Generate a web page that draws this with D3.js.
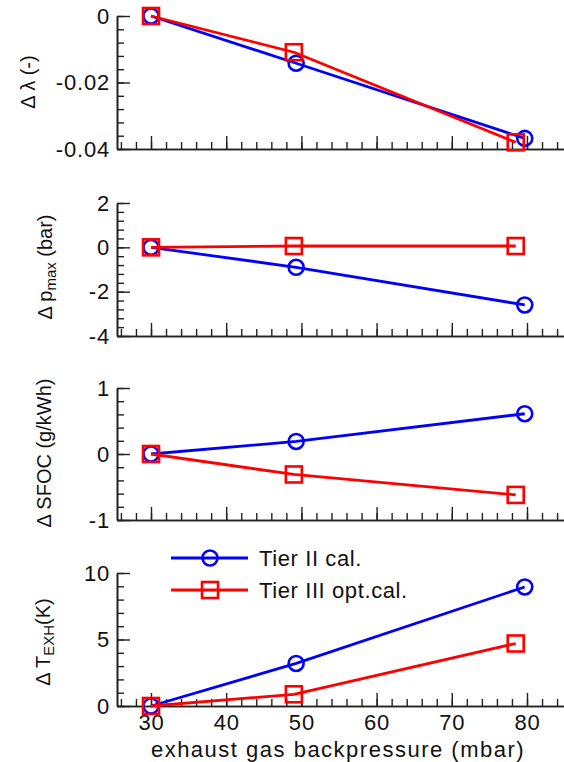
<!DOCTYPE html>
<html>
<head>
<meta charset="utf-8">
<script src="https://cdn.jsdelivr.net/npm/d3@7"></script>
<style>
  html, body { margin: 0; padding: 0; background: #fff; }
  svg { display: block; font-family: "Liberation Sans", Arial, Helvetica, sans-serif; }
</style>
</head>
<body>
<svg id="chart" width="564" height="762"></svg>
<script>
// Exhaust gas backpressure (mbar) of the three operating points
const xTier2 = [30, 49.3, 79.7];
const xTier3 = [30, 49.0, 78.5];

// Change in air-fuel ratio lambda (-)
const lambdaTier2 = [0, -0.0142, -0.0368];
const lambdaTier3 = [0, -0.0109, -0.038];

// Change in peak cylinder pressure (bar)
const pmaxTier2 = [0, -0.9, -2.6];
const pmaxTier3 = [0, 0.06, 0.06];

// Change in specific fuel oil consumption (g/kWh)
const sfocTier2 = [0, 0.19, 0.61];
const sfocTier3 = [0, -0.31, -0.62];

// Change in exhaust gas temperature (K)
const texhTier2 = [0, 3.2, 8.95];
const texhTier3 = [0, 0.88, 4.7];

// Axis ranges and ticks
const xMajorTicks = [30, 40, 50, 60, 70, 80];
const xMinorTicks = d3.range(26, 86, 2);
const lambdaDomain = [-0.04, 0];
const lambdaMajor = [0, -0.02, -0.04];
const lambdaMinor = d3.range(0, -0.0401, -0.004);
const pmaxDomain = [-4, 2];
const pmaxMajor = [2, 0, -2, -4];
const pmaxMinor = d3.range(2, -4.01, -0.4);
const sfocDomain = [-1, 1];
const sfocMajor = [1, 0, -1];
const sfocMinor = d3.range(1, -1.01, -0.2);
const texhDomain = [0, 10];
const texhMajor = [10, 5, 0];
const texhMinor = d3.range(0, 10.01, 1);

const seriesNames = ["Tier II cal.", "Tier III opt.cal."];
const seriesColors = ["#0000ff", "#ff0000"];

const svg = d3.select("#chart");

const axisLeftX = 117;
const axisRightX = 571;
// 30 mbar and 80 mbar anchor the horizontal scale
const xRef = d3.scaleLinear().domain([30, 80]).range([151, 527]);
const x = d3.scaleLinear()
  .domain([xRef.invert(axisLeftX), xRef.invert(axisRightX)])
  .range([axisLeftX, axisRightX]);

const panels = [
  { top: 16,  bottom: 149, domain: lambdaDomain, major: lambdaMajor, minor: lambdaMinor,
    fmt: d => d === 0 ? "0" : d3.format(".2f")(d).replace("−", "-"),
    y2: lambdaTier2, y3: lambdaTier3,
    label: [{t: "Δ λ (-)"}], labelX: 35, labelY: 82 },
  { top: 203, bottom: 336, domain: pmaxDomain, major: pmaxMajor, minor: pmaxMinor,
    fmt: d => String(d),
    y2: pmaxTier2, y3: pmaxTier3,
    label: [{t: "Δ p"}, {t: "max", sub: true}, {t: " (bar)"}], labelX: 52, labelY: 267 },
  { top: 388, bottom: 520, domain: sfocDomain, major: sfocMajor, minor: sfocMinor,
    fmt: d => String(d),
    y2: sfocTier2, y3: sfocTier3,
    label: [{t: "Δ SFOC (g/kWh)"}], labelX: 51, labelY: 453 },
  { top: 573, bottom: 706, domain: texhDomain, major: texhMajor, minor: texhMinor,
    fmt: d => String(d),
    y2: texhTier2, y3: texhTier3,
    label: [{t: "Δ T"}, {t: "EXH", sub: true}, {t: "(K)"}], labelX: 50, labelY: 642 }
];

const tickFont = 22;
const axisColor = "#222";

function styleAxis(g) {
  g.selectAll("path.domain").attr("stroke", axisColor).attr("stroke-width", 1.6);
  g.selectAll(".tick line").attr("stroke", axisColor).attr("stroke-width", 1.4);
  g.selectAll(".tick text")
    .attr("fill", "#111")
    .style("font-size", tickFont + "px")
    .style("letter-spacing", "0.8px");
}

function drawMarker(g, shape, cx, cy, color) {
  if (shape === "circle") {
    g.append("circle").attr("cx", cx).attr("cy", cy).attr("r", 7.5)
      .attr("fill", "none").attr("stroke", color).attr("stroke-width", 2.6);
  } else {
    g.append("rect").attr("x", cx - 8).attr("y", cy - 8)
      .attr("width", 16).attr("height", 16)
      .attr("fill", "none").attr("stroke", color).attr("stroke-width", 2.6);
  }
}

panels.forEach((p, i) => {
  const y = d3.scaleLinear().domain(p.domain).range([p.bottom, p.top]);
  const isLast = i === panels.length - 1;
  const g = svg.append("g");

  // minor ticks on the value axis
  g.append("g").attr("transform", `translate(${axisLeftX},0)`)
    .call(d3.axisLeft(y).tickValues(p.minor).tickSizeInner(-7).tickSizeOuter(0).tickFormat(""))
    .call(styleAxis);
  // major ticks with labels
  g.append("g").attr("transform", `translate(${axisLeftX},0)`)
    .call(d3.axisLeft(y).tickValues(p.major).tickSizeInner(-13).tickSizeOuter(0)
      .tickPadding(7).tickFormat(p.fmt))
    .call(styleAxis);

  // horizontal axis: minor and major ticks pointing inward
  g.append("g").attr("transform", `translate(0,${p.bottom})`)
    .call(d3.axisBottom(x).tickValues(xMinorTicks).tickSizeInner(-7).tickSizeOuter(0).tickFormat(""))
    .call(styleAxis);
  g.append("g").attr("transform", `translate(0,${p.bottom})`)
    .call(d3.axisBottom(x).tickValues(xMajorTicks).tickSizeInner(-13).tickSizeOuter(0)
      .tickPadding(8).tickFormat(isLast ? d3.format("d") : ""))
    .call(styleAxis);

  // value axis title
  const t = g.append("text")
    .attr("transform", `translate(${p.labelX},${p.labelY}) rotate(-90)`)
    .attr("text-anchor", "middle")
    .attr("fill", "#111")
    .style("font-size", "20px");
  p.label.forEach(part => {
    const s = t.append("tspan").text(part.t);
    if (part.sub) s.attr("baseline-shift", "-28%").style("font-size", "15px");
  });

  // series lines and markers
  const line = d3.line().x(d => x(d[0])).y(d => y(d[1]));
  const series = [
    { xs: xTier2, ys: p.y2, color: seriesColors[0], shape: "circle" },
    { xs: xTier3, ys: p.y3, color: seriesColors[1], shape: "square" }
  ];
  series.forEach(s => {
    const pts = s.xs.map((xv, k) => [xv, s.ys[k]]);
    g.append("path").datum(pts).attr("d", line)
      .attr("fill", "none").attr("stroke", s.color).attr("stroke-width", 2.8)
      .attr("stroke-linejoin", "round");
    pts.forEach(d => drawMarker(g, s.shape, x(d[0]), y(d[1]), s.color));
  });

  if (isLast) {
    // horizontal axis title
    svg.append("text")
      .attr("x", 338).attr("y", 757)
      .attr("text-anchor", "middle")
      .attr("fill", "#111")
      .style("font-size", "22px")
      .style("letter-spacing", "1.5px")
      .text("exhaust gas backpressure (mbar)");

    // legend
    const legend = svg.append("g");
    const rows = [558, 590];
    seriesNames.forEach((name, k) => {
      const ly = rows[k];
      legend.append("line").attr("x1", 171).attr("x2", 248).attr("y1", ly).attr("y2", ly)
        .attr("stroke", seriesColors[k]).attr("stroke-width", 2.8);
      drawMarker(legend, k === 0 ? "circle" : "square", 210, ly, seriesColors[k]);
      legend.append("text").attr("x", 259).attr("y", ly).attr("dy", "0.36em")
        .attr("fill", "#111").style("font-size", "22px").style("letter-spacing", "0.6px")
        .text(name);
    });
  }
});
</script>
</body>
</html>
